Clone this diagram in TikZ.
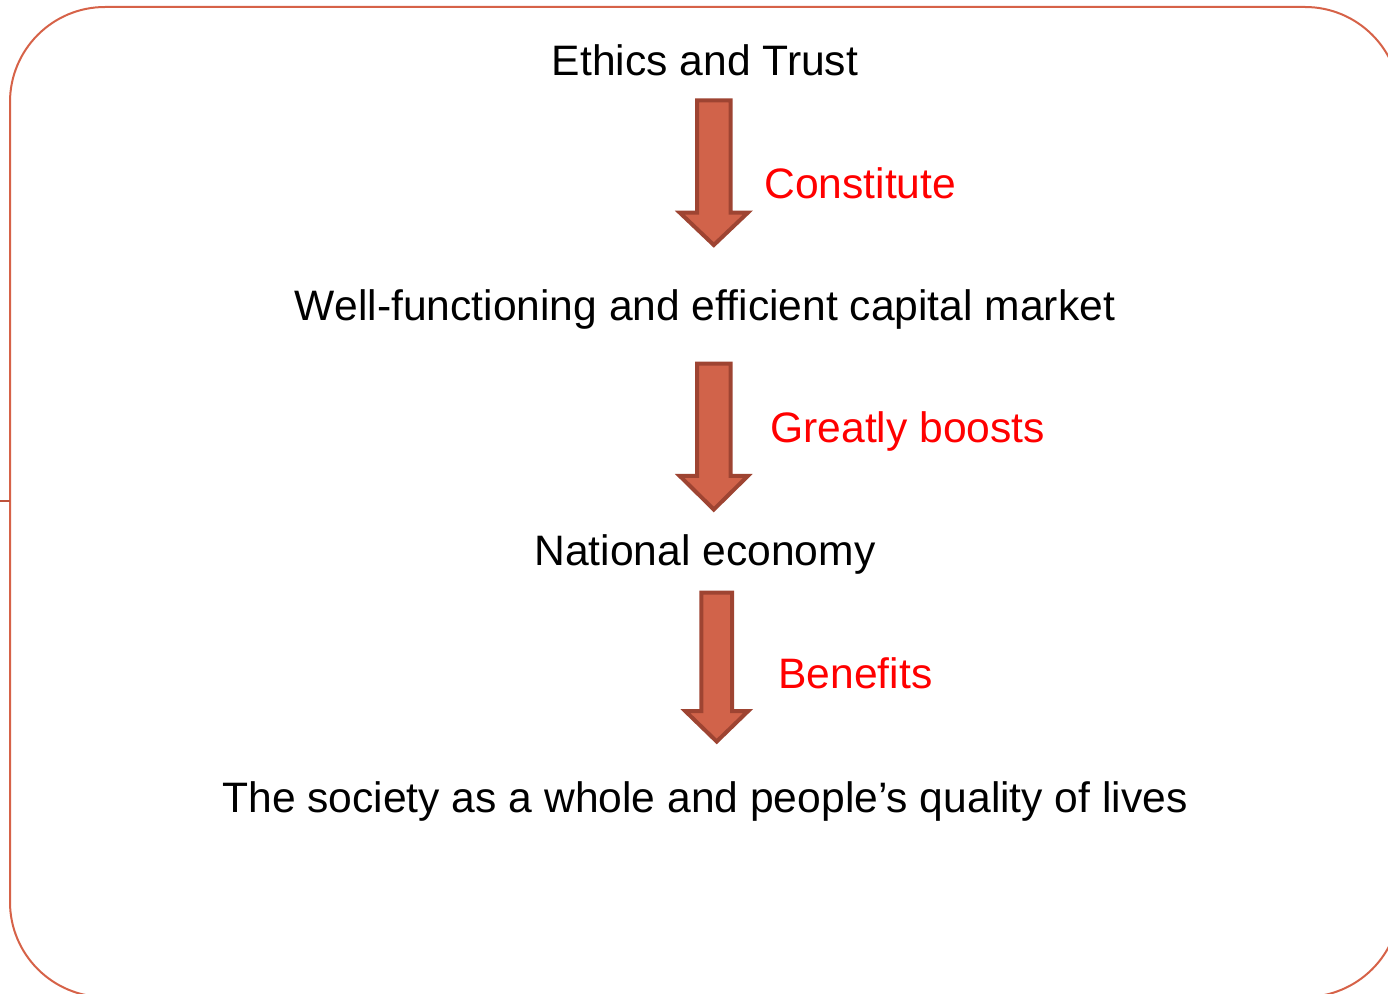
\documentclass[tikz,border=0pt]{standalone}
\usepackage{fontspec}
\setmainfont{Liberation Sans}
\definecolor{framecolor}{RGB}{214,98,72}
\definecolor{tickcolor}{RGB}{190,82,60}
\definecolor{arrowfill}{RGB}{209,99,74}
\definecolor{arrowline}{RGB}{158,68,50}
\colorlet{labelcolor}{red}

\tikzset{
    steptext/.style={anchor=base, inner sep=0pt, font=\fontsize{21.3}{25}\selectfont},
    verbtext/.style={steptext, anchor=base west, text=labelcolor},
    blockarrow/.style={fill=arrowfill, draw=arrowline, line width=2pt, line join=miter}
}

\begin{document}
\begin{tikzpicture}[x=0.5pt, y=-0.5pt]
        \useasboundingbox (0,0) rectangle (1388,994);

        % frame and the little mark on its left side
        \draw[framecolor, line width=1pt, rounded corners=47.5pt] (10,7) rectangle (1400,997);
        \draw[tickcolor, line width=1pt] (0,501) -- (10,501);

        % chain of statements
        \node (ethics)  [steptext] at (705,76)  {Ethics and Trust};
        \node (market)  [steptext] at (705,321) {Well-functioning and efficient capital market};
        \node (economy) [steptext] at (705,566) {National economy};
        \node (society) [steptext] at (705,812) {The society as a whole and people’s quality of lives};

        % block arrows between them
        \foreach \cx/\bw/\hw/\top/\neck/\tip in {713.8/16.8/34/100.3/212.7/245,
                                                713.8/16.8/34/363.7/476/509.5,
                                                716.7/15.3/31.5/592.7/711/741.5}
            \draw[blockarrow] (\cx-\bw,\top) -- (\cx+\bw,\top) -- (\cx+\bw,\neck) -- (\cx+\hw,\neck)
                -- (\cx,\tip) -- (\cx-\hw,\neck) -- (\cx-\bw,\neck) -- cycle;

        % what each arrow means
        \node (constitute) [verbtext] at (764,199) {Constitute};
        \node (boosts)     [verbtext] at (770,443) {Greatly boosts};
        \node (benefits)   [verbtext] at (778,689) {Benefits};
    \end{tikzpicture}
\end{document}
